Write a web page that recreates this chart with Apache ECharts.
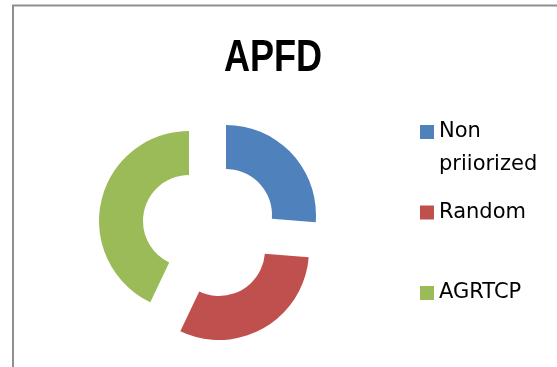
<!DOCTYPE html>
<html>
<head>
<meta charset="utf-8">
<script src="https://cdn.jsdelivr.net/npm/echarts@6/dist/echarts.min.js"></script>
<style>html,body{margin:0;padding:0;background:#fff}#c{width:557px;height:367px}</style>
</head>
<body>
<div id="c"></div>
<script>
const titleText = 'APFD';
const categories = ['Non priiorized', 'Random', 'AGRTCP'];
const values = [0.52, 0.61, 0.85];
const colors = ['#4F81BD', '#C0504D', '#9BBB59'];
const centers = [[226, 215], [219, 250], [189, 221]];
const legendTops = [82.5, 202, 282.5];

const chart = echarts.init(document.getElementById('c'), null, {renderer: 'canvas'});

const series = categories.map((name, k) => ({
  type: 'pie',
  radius: [46, 90],
  center: centers[k],
  startAngle: 90,
  clockwise: true,
  silent: true,
  animation: false,
  label: {show: false},
  labelLine: {show: false},
  emphasis: {disabled: true},
  data: categories.map((n, i) => ({
    name: n,
    value: values[i],
    itemStyle: {color: i === k ? colors[i] : 'rgba(0,0,0,0)'}
  }))
}));

const legends = categories.map((name, i) => {
  const multi = i === 0;
  return {
    orient: 'vertical',
    left: 420,
    top: legendTops[i],
    padding: 0,
    icon: 'rect',
    itemWidth: 14,
    itemHeight: 14,
    selectedMode: false,
    data: [{name: name, itemStyle: {color: colors[i]}}],
    formatter: multi ? '\u00a0\nNon\npriiorized' : '{name}',
    textStyle: {
      fontFamily: '"DejaVu Sans", sans-serif',
      fontSize: 21,
      color: '#000',
      lineHeight: multi ? 33 : 21
    }
  };
});

chart.setOption({
  animation: false,
  legend: legends,
  series: series,
  graphic: [{
    type: 'text',
    x: 273,
    y: 58.5,
    scaleX: 0.82,
    silent: true,
    style: {
      text: titleText,
      align: 'center',
      verticalAlign: 'middle',
      font: 'bold 44px "Liberation Sans", Arial, sans-serif',
      fill: '#000'
    }
  }, {
    type: 'rect',
    shape: {x: 13, y: 5.5, width: 700, height: 500},
    style: {fill: 'none', stroke: '#8f8f8f', lineWidth: 2},
    silent: true,
    z: 100
  }]
});
</script>
</body>
</html>
